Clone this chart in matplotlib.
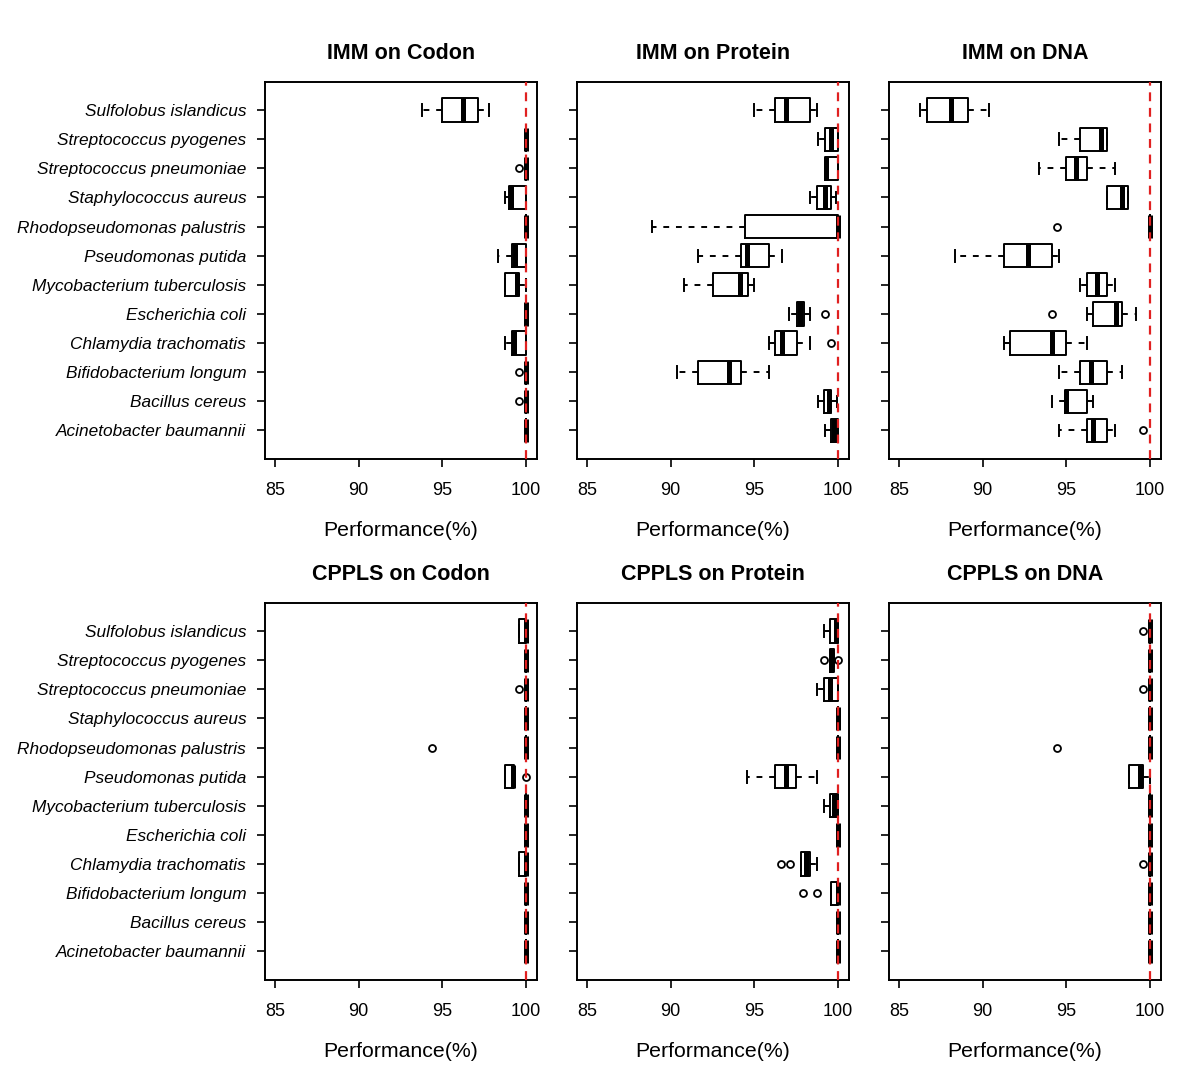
import matplotlib
matplotlib.use("Agg")
import matplotlib.pyplot as plt

plt.rcParams['font.family'] = ['Liberation Sans', 'DejaVu Sans']

# species, top to bottom as shown
species = ["Sulfolobus islandicus", "Streptococcus pyogenes", "Streptococcus pneumoniae",
           "Staphylococcus aureus", "Rhodopseudomonas palustris", "Pseudomonas putida",
           "Mycobacterium tuberculosis", "Escherichia coli", "Chlamydia trachomatis",
           "Bifidobacterium longum", "Bacillus cereus", "Acinetobacter baumannii"]

FULL = (100, 100, 100, 100, 100)

# (whisker low, q1, median, q3, whisker high) per species
imm_codon = [(93.8, 95.0, 96.25, 97.1, 97.8), FULL, FULL,
             (98.75, 99.0, 99.08, 100, 100), FULL,
             (98.35, 99.15, 99.35, 100, 100), (98.75, 98.75, 99.45, 99.6, 100),
             FULL, (98.75, 99.15, 99.3, 100, 100), FULL, FULL, FULL]
imm_codon_out = [[], [], [99.55], [], [], [], [], [], [], [99.55], [99.55], []]

imm_protein = [(95.0, 96.25, 96.9, 98.3, 98.75), (98.8, 99.2, 99.6, 100, 100),
               (99.2, 99.2, 99.3, 100, 100), (98.35, 98.75, 99.2, 99.6, 99.9),
               (88.9, 94.45, 100, 100, 100), (91.65, 94.2, 94.55, 95.85, 96.65),
               (90.8, 92.5, 94.15, 94.6, 94.95), (97.05, 97.55, 97.75, 97.95, 98.3),
               (95.85, 96.25, 96.65, 97.55, 98.3), (90.4, 91.65, 93.5, 94.2, 95.85),
               (98.8, 99.15, 99.45, 99.6, 99.95), (99.2, 99.55, 99.75, 100, 100)]
imm_protein_out = [[], [], [], [], [], [], [], [99.2], [99.6], [], [], []]

imm_dna = [(86.25, 86.65, 88.1, 89.15, 90.35), (94.55, 95.8, 97.05, 97.45, 97.45),
           (93.35, 95.0, 95.6, 96.2, 97.9), (97.45, 97.45, 98.3, 98.7, 98.7),
           FULL, (88.35, 91.25, 92.7, 94.15, 94.55),
           (95.8, 96.2, 96.85, 97.45, 97.9), (96.2, 96.6, 97.95, 98.35, 99.15),
           (91.25, 91.65, 94.15, 95.0, 96.2), (94.55, 95.8, 96.45, 97.45, 98.3),
           (94.15, 94.9, 94.95, 96.2, 96.6), (94.55, 96.2, 96.6, 97.45, 97.9)]
imm_dna_out = [[], [], [], [], [94.45], [], [], [94.15], [], [], [], [99.55]]

cppls_codon = [(99.6, 99.6, 100, 100, 100), FULL, FULL, FULL, FULL,
               (98.75, 98.75, 99.2, 99.25, 99.25), FULL, FULL,
               (99.6, 99.6, 100, 100, 100), FULL, FULL, FULL]
cppls_codon_out = [[], [], [99.55], [], [94.4], [100], [], [], [], [], [], []]

cppls_protein = [(99.15, 99.5, 99.85, 100, 100), (99.5, 99.5, 99.6, 99.75, 99.75),
                 (98.75, 99.15, 99.5, 100, 100), FULL, FULL,
                 (94.55, 96.25, 96.9, 97.5, 98.75), (99.15, 99.5, 99.75, 100, 100),
                 FULL, (97.8, 97.8, 98.1, 98.3, 98.75),
                 (99.55, 99.55, 100, 100, 100), FULL, FULL]
cppls_protein_out = [[], [99.15, 100], [], [], [], [], [], [], [96.6, 97.1],
                     [97.9, 98.75], [], []]

cppls_dna = [FULL, FULL, FULL, FULL, FULL, (98.75, 98.75, 99.4, 99.6, 100),
             FULL, FULL, FULL, FULL, FULL, FULL]
cppls_dna_out = [[99.55], [], [99.55], [], [94.45], [], [], [], [99.55], [], [], []]

titles = ["IMM on Codon", "IMM on Protein", "IMM on DNA",
          "CPPLS on Codon", "CPPLS on Protein", "CPPLS on DNA"]
panels = [(imm_codon, imm_codon_out), (imm_protein, imm_protein_out),
          (imm_dna, imm_dna_out), (cppls_codon, cppls_codon_out),
          (cppls_protein, cppls_protein_out), (cppls_dna, cppls_dna_out)]

fig = plt.figure(figsize=(12, 10.82), dpi=100)
lefts = [0.2208, 0.4808, 0.7408]
bottoms = [0.5758, 0.0943]
w, h = 0.2267, 0.3488

n = len(species)
positions = list(range(n, 0, -1))

for k, (title, (stats5, outs)) in enumerate(zip(titles, panels)):
    ax = fig.add_axes([lefts[k % 3], bottoms[k // 3], w, h])
    stats = []
    for (lo, q1, med, q3, hi), fl in zip(stats5, outs):
        stats.append(dict(whislo=lo, q1=q1, med=med, q3=q3, whishi=hi, fliers=fl))
    ax.bxp(stats, positions=positions, orientation='horizontal', widths=0.8,
           capwidths=0.4, showfliers=True,
           boxprops=dict(color='black', lw=1.4),
           medianprops=dict(color='black', lw=3.6, solid_capstyle='butt'),
           whiskerprops=dict(color='black', lw=1.4, linestyle=(0, (3, 3.5))),
           capprops=dict(color='black', lw=1.4),
           flierprops=dict(marker='o', markersize=5, markerfacecolor='none',
                           markeredgecolor='black', markeredgewidth=1.3))
    ax.axvline(100, color='#e02020', lw=1.6, linestyle=(0, (4, 3)), zorder=10)
    ax.set_xlim(84.4, 100.65)
    ax.set_ylim(0.02, 12.98)
    ax.set_xticks([85, 90, 95, 100])
    ax.set_xticklabels(["85", "90", "95", "100"], fontsize=13)
    ax.set_yticks(positions)
    if k % 3 == 0:
        ax.set_yticklabels(species, fontsize=12.4, style='italic')
    else:
        ax.set_yticklabels([])
    ax.tick_params(axis='both', direction='out', length=5.5, width=1.2, color='black')
    ax.tick_params(axis='y', pad=8)
    ax.tick_params(axis='x', pad=11)
    for s in ax.spines.values():
        s.set_linewidth(1.4)
    ax.set_xlabel("Performance(%)", fontsize=15.3, labelpad=16)
    ax.set_title(title, fontsize=15.5, fontweight='bold', pad=16)

fig.savefig("out.png", dpi=100)
